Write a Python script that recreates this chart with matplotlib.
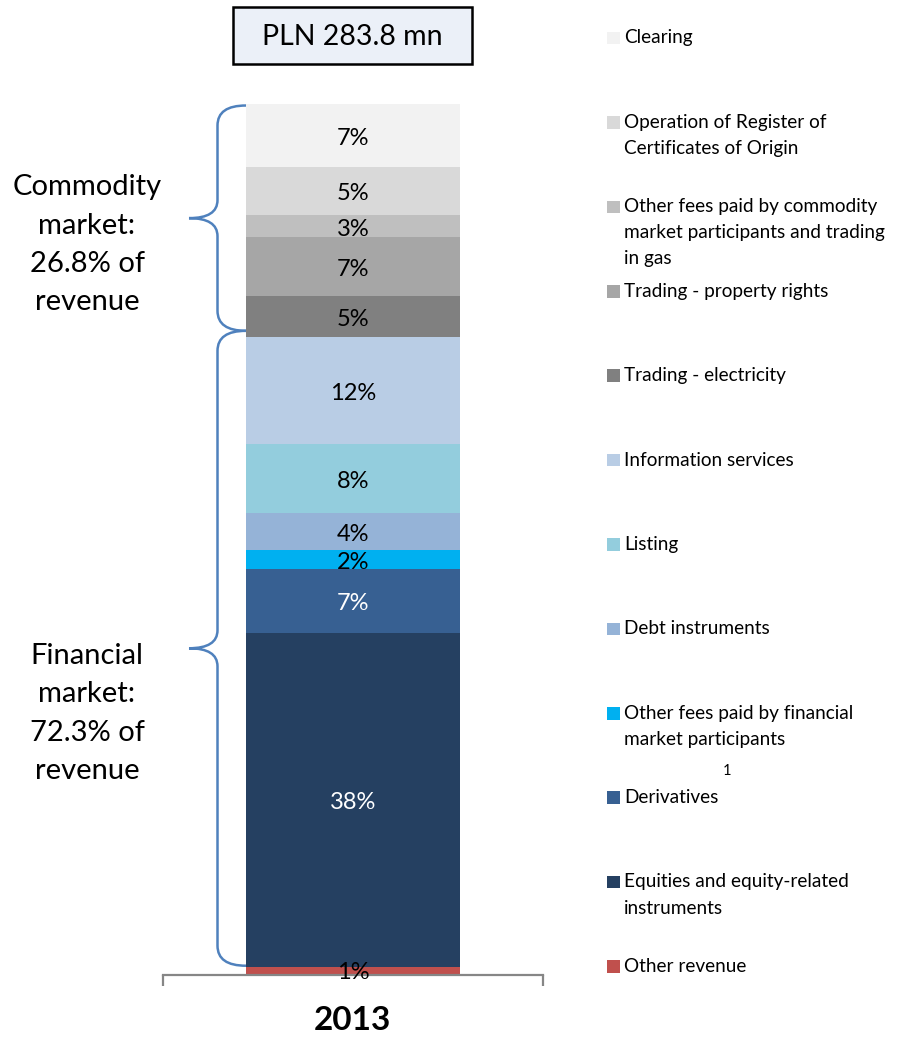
import matplotlib
matplotlib.use("Agg")
import matplotlib.pyplot as plt
from matplotlib.patches import Rectangle, PathPatch
from matplotlib.path import Path

plt.rcParams['font.family'] = ['Lato', 'DejaVu Sans']

# ---- data (bottom -> top of the stacked bar) ----
categories = [
    "Other revenue",
    "Equities and equity-related\ninstruments",
    "Derivatives",
    "Other fees paid by financial\nmarket participants",
    "Debt instruments",
    "Listing",
    "Information services",
    "Trading - electricity",
    "Trading - property rights",
    "Other fees paid by commodity\nmarket participants and trading\nin gas",
    "Operation of Register of\nCertificates of Origin",
    "Clearing",
]
values = [0.8, 38.3, 7.4, 2.2, 4.2, 7.9, 12.3, 4.8, 6.7, 2.5, 5.6, 7.2]
value_labels = ["1%", "38%", "7%", "2%", "4%", "8%", "12%", "5%", "7%", "3%", "5%", "7%"]
colors = ["#C0504D", "#254061", "#376092", "#00B0F0", "#95B3D7", "#93CDDD",
          "#B9CDE5", "#808080", "#A6A6A6", "#BFBFBF", "#D9D9D9", "#F2F2F2"]
label_colors = ["black", "white", "white", "black", "black", "black",
                "black", "black", "black", "black", "black", "black"]
year = "2013"
total_text = "PLN 283.8 mn"
commodity_text = ["Commodity", "market:", "26.8% of", "revenue"]
financial_text = ["Financial", "market:", "72.3% of", "revenue"]
n_financial = 6  # equities .. information services (index 1..6)

W, H = 899, 1040
fig = plt.figure(figsize=(W / 100, H / 100), dpi=100)

# overlay axes in pixel coordinates
ov = fig.add_axes([0, 0, 1, 1])
ov.set_xlim(0, W)
ov.set_ylim(H, 0)
ov.axis('off')

# main bar axes
bar_bottom_px, bar_top_px = 973.7, 104.0
ax_left_px, ax_right_px = 162.7, 543.3
ax = fig.add_axes([ax_left_px / W, 1 - bar_bottom_px / H,
                   (ax_right_px - ax_left_px) / W, (bar_bottom_px - bar_top_px) / H])
ax.patch.set_alpha(0)
total = sum(values)
ax.set_xlim(0, 1)
ax.set_ylim(0, total)

bottom = 0
for v, c, lab, lc in zip(values, colors, value_labels, label_colors):
    ax.bar(0.5, v, width=0.56, bottom=bottom, color=c, edgecolor='none', zorder=2)
    ax.annotate(lab, (0.5, bottom + v / 2), xytext=(0, -2), textcoords='offset points',
                ha='center', va='center', fontsize=17, color=lc, zorder=3)
    bottom += v

for s in ['top', 'left', 'right']:
    ax.spines[s].set_visible(False)
ax.spines['bottom'].set_color('#868686')
ax.spines['bottom'].set_linewidth(1.6)
ax.spines['bottom'].set_position(('outward', 1))
ax.set_yticks([])
ax.set_xticks([0, 1])
ax.set_xticklabels(['', ''])
ax.tick_params(axis='x', direction='out', length=8, width=1.6, color='#868686')

# year label
ov.text(352.5, 1021, year, ha='center', va='center', fontsize=24, fontweight='bold')

# title box
ov.add_patch(Rectangle((232.7, 6.7), 472 - 232.7, 64 - 6.7, facecolor='#EBF0F8',
                       edgecolor='black', linewidth=1.8))
ov.text(352.3, 37, total_text, ha='center', va='center', fontsize=20.5)


def data_to_px(v):
    return H - ax.transData.transform((0, v))[1]


def brace(y_top, y_bot, x_end=246, x_line=217.5, x_tip=189, ry=20, ry_mid=18):
    y_mid = (y_top + y_bot) / 2
    verts = [
        (x_end, y_top),
        (x_line, y_top), (x_line, y_top + ry),
        (x_line, y_mid - ry_mid),
        (x_line, y_mid), (x_tip, y_mid),
        (x_line, y_mid), (x_line, y_mid + ry_mid),
        (x_line, y_bot - ry),
        (x_line, y_bot), (x_end, y_bot),
    ]
    codes = [Path.MOVETO,
             Path.CURVE3, Path.CURVE3,
             Path.LINETO,
             Path.CURVE3, Path.CURVE3,
             Path.CURVE3, Path.CURVE3,
             Path.LINETO,
             Path.CURVE3, Path.CURVE3]
    ov.add_patch(PathPatch(Path(verts, codes), facecolor='none',
                           edgecolor='#4F81BD', linewidth=1.8))


fin_bottom = values[0]
fin_top = sum(values[:1 + n_financial])
junction = data_to_px(fin_top) - 6.5
brace(data_to_px(total) + 1.5, junction)
brace(junction, data_to_px(fin_bottom) - 1)

for i, line in enumerate(commodity_text):
    ov.text(87, 187 + i * 38.5, line, ha='center', va='center', fontsize=21)
for i, line in enumerate(financial_text):
    ov.text(87, 656 + i * 38.3, line, ha='center', va='center', fontsize=21)

# legend (top -> bottom)
for i, (name, c) in enumerate(zip(categories[::-1], colors[::-1])):
    y0 = 38 + i * 84.4
    ov.add_patch(Rectangle((607, y0 - 6.3), 12.6, 12.6, facecolor=c, edgecolor='none'))
    for j, line in enumerate(name.split('\n')):
        ov.text(624, y0 + j * 26, line, ha='left', va='center', fontsize=13.7)

ov.text(727, 771, "1", ha='center', va='center', fontsize=10.5)

fig.savefig("out.png", dpi=100)
